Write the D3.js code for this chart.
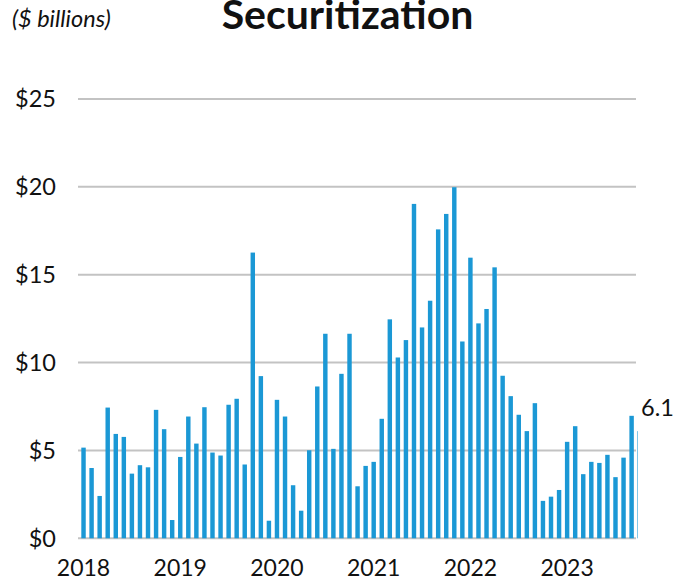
<!DOCTYPE html>
<html lang="en">
<head>
    <meta charset="UTF-8">
    <title>Securitization</title>
    <script src="https://d3js.org/d3.v7.min.js"></script>
    <style>
        body { margin: 0; background: #fff; }
        svg { display: block; font-family: Lato, "Open Sans", sans-serif; }
    </style>
</head>
<body>
    <div id="chart"></div>

    <script>
        // monthly issuance, Jan 2018 - Oct 2023 ($ billions)
        const values = [
            5.16, 4.0, 2.41, 7.44, 5.94, 5.77, 3.68, 4.16, 4.04, 7.31, 6.21, 1.04,
            4.63, 6.93, 5.39, 7.46, 4.88, 4.71, 7.6, 7.94, 4.2, 16.26, 9.23, 1.0,
            7.88, 6.93, 3.02, 1.57, 5.01, 8.64, 11.64, 5.09, 9.36, 11.64, 2.96, 4.12,
            4.35, 6.8, 12.46, 10.29, 11.28, 19.03, 12.0, 13.52, 17.58, 18.46, 19.98, 11.2,
            15.97, 12.23, 13.05, 15.42, 9.25, 8.09, 7.03, 6.1, 7.69, 2.13, 2.37, 2.75,
            5.49, 6.38, 3.65, 4.35, 4.29, 4.75, 3.48, 4.59, 6.97, 6.1
        ];
        const years = [2018, 2019, 2020, 2021, 2022, 2023];
        const yTicks = [0, 5, 10, 15, 20, 25];
        const lastLabel = "6.1";

        const width = 683, height = 579;
        const months = values.map((v, i) => i);

        const svg = d3.select("#chart")
            .append("svg")
            .attr("width", width)
            .attr("height", height);

        const x = d3.scaleBand()
            .domain(months)
            .range([79.5, 643.7])
            .paddingInner(0.45)
            .paddingOuter(0.225);

        const y = d3.scaleLinear()
            .domain([0, 25])
            .range([538.3, 99]);

        // gridlines
        svg.append("g")
            .selectAll("line")
            .data(yTicks)
            .join("line")
            .attr("x1", 78)
            .attr("x2", 636)
            .attr("y1", d => y(d))
            .attr("y2", d => y(d))
            .attr("stroke", "#c3c3c3")
            .attr("stroke-width", 2);

        // y labels
        svg.append("g")
            .selectAll("text")
            .data(yTicks)
            .join("text")
            .attr("x", 56)
            .attr("y", d => y(d))
            .attr("dy", "0.36em")
            .attr("text-anchor", "end")
            .attr("font-size", 23.5)
            .attr("fill", "#111")
            .text(d => "$" + d);

        svg.append("clipPath")
            .attr("id", "plotclip")
            .append("rect")
            .attr("x", 0)
            .attr("y", 0)
            .attr("width", 638)
            .attr("height", height);

        // bars
        svg.append("g")
            .attr("clip-path", "url(#plotclip)")
            .selectAll("rect")
            .data(values)
            .join("rect")
            .attr("x", (d, i) => x(i))
            .attr("y", d => y(d))
            .attr("width", x.bandwidth())
            .attr("height", d => y(0) - y(d))
            .attr("fill", "#1b98d5");

        // x labels at each January
        svg.append("g")
            .selectAll("text")
            .data(years)
            .join("text")
            .attr("x", (d, i) => x(i * 12) + x.bandwidth() / 2)
            .attr("y", 576)
            .attr("text-anchor", "middle")
            .attr("font-size", 23)
            .attr("fill", "#111")
            .text(d => d);

        // value label for the latest month
        svg.append("text")
            .attr("x", 641)
            .attr("y", y(values[values.length - 1]) - 15)
            .attr("font-size", 23.5)
            .attr("fill", "#111")
            .text(lastLabel);

        // titles
        svg.append("text")
            .attr("x", 347.5)
            .attr("y", 29)
            .attr("text-anchor", "middle")
            .attr("font-size", 41)
            .attr("font-weight", "bold")
            .attr("fill", "#111")
            .text("Securitization");

        svg.append("text")
            .attr("x", 12)
            .attr("y", 27)
            .attr("font-size", 23.5)
            .attr("font-style", "italic")
            .attr("fill", "#111")
            .text("($ billions)");
    </script>
</body>
</html>
